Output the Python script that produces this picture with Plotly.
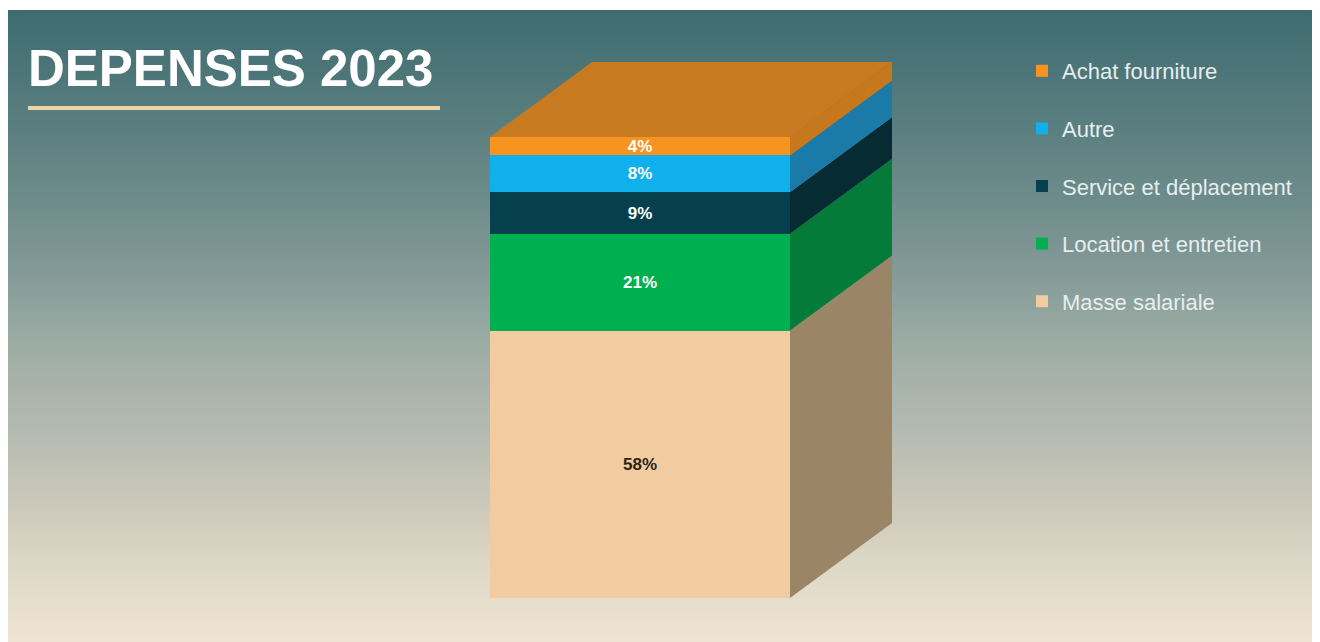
import plotly.graph_objects as go
import numpy as np

# ---- data ----
categories = ["Masse salariale", "Location et entretien", "Service et déplacement", "Autre", "Achat fourniture"]
values = [58, 21, 9, 8, 4]
labels = ["58%", "21%", "9%", "8%", "4%"]
title_text = "DEPENSES 2023"

# ---- styles ----
front_colors = ["#f2cba0", "#00b050", "#06404f", "#10b0ec", "#f7941f"]
side_colors = ["#9b8567", "#047b39", "#072b33", "#1a7aa8", "#c7781d"]
top_color = "#c87a20"
label_colors = ["#2b2418", "#ffffff", "#ffffff", "#ffffff", "#ffffff"]

W, H = 1320, 642
OFF = 8  # page body margin offset


def px(xp):
    return (xp - OFF) / W


def py(yp):
    return 1 - (yp - OFF) / H


px_per_unit_y = 4.61
y0_px = 598 - OFF
bar_left_px, bar_right_px = 490 - OFF, 790 - OFF
px_per_unit_x = bar_right_px - bar_left_px
dx = 102 / px_per_unit_x
dy = 75 / px_per_unit_y

xr = [-0.5 - bar_left_px / px_per_unit_x, 0.5 + (W - bar_right_px) / px_per_unit_x]
yr = [-(H - y0_px) / px_per_unit_y, y0_px / px_per_unit_y]


def data_y(page_px):
    return (y0_px - (page_px - OFF)) / px_per_unit_y


fig = go.Figure()

# background gradient (smooth heatmap in lowest layer)
stops_px = [0, 10, 130, 250, 350, 430, 500, 570, 660]
stops_col = ["#3e6c70", "#3e6c70", "#5b7f80", "#7d9594", "#9eaea6",
             "#b5bab0", "#cac8ba", "#dfd9c8", "#f3e7d6"]
span = stops_px[-1] - stops_px[0]
cscale = [[(p - stops_px[0]) / span, c] for p, c in zip(stops_px, stops_col)]
fig.add_trace(go.Heatmap(
    x=[xr[0] - 1, xr[1] + 1], y=[data_y(p) for p in stops_px],
    z=[[p, p] for p in stops_px], zmin=stops_px[0], zmax=stops_px[-1],
    colorscale=cscale, zsmooth="best", showscale=False, hoverinfo="skip",
))

bases = np.concatenate([[0], np.cumsum(values)[:-1]])
n = len(values)
for i, (cat, v) in enumerate(zip(categories, values)):
    fig.add_trace(go.Bar(
        x=[0], y=[v], width=1, name=cat,
        marker=dict(color=front_colors[i], line=dict(width=0)),
        text=[labels[i]], textposition="inside", insidetextanchor="middle",
        textfont=dict(family="Liberation Sans", size=17, color=label_colors[i], weight="bold"),
        legendgroup=cat, legendrank=n - i, hoverinfo="skip",
    ))

for i, v in enumerate(values):
    b = bases[i]
    fig.add_trace(go.Scatter(
        x=[0.5, 0.5 + dx, 0.5 + dx, 0.5, 0.5],
        y=[b, b + dy, b + v + dy, b + v, b],
        fill="toself", fillcolor=side_colors[i], mode="lines",
        line=dict(width=0, color=side_colors[i]), showlegend=False, hoverinfo="skip",
    ))

total = float(sum(values))
fig.add_trace(go.Scatter(
    x=[-0.5, -0.5 + dx, 0.5 + dx, 0.5, -0.5],
    y=[total, total + dy, total + dy, total, total],
    fill="toself", fillcolor=top_color, mode="lines",
    line=dict(width=0, color=top_color), showlegend=False, hoverinfo="skip",
))

shapes = [
    dict(type="rect", xref="paper", yref="paper", x0=0, x1=1, y0=py(10), y1=1.01,
         fillcolor="white", line=dict(width=0), layer="above"),
    dict(type="line", xref="paper", yref="paper",
         x0=px(28), x1=px(440), y0=py(108), y1=py(108),
         line=dict(color="#ecd5a6", width=4), layer="above"),
]

fig.update_layout(
    width=W, height=H,
    margin=dict(l=0, r=0, t=0, b=0),
    paper_bgcolor="white", plot_bgcolor="rgba(0,0,0,0)",
    barmode="stack", bargap=0,
    uniformtext=dict(mode="show", minsize=17),
    xaxis=dict(range=xr, visible=False, fixedrange=True),
    yaxis=dict(range=yr, visible=False, fixedrange=True),
    shapes=shapes,
    showlegend=True,
    legend=dict(
        x=px(1022), y=py(50), xanchor="left", yanchor="top",
        traceorder="grouped", tracegroupgap=26,
        font=dict(family="Liberation Sans", size=22, color="#e6eeee"),
        bgcolor="rgba(0,0,0,0)",
    ),
    annotations=[dict(
        text="<b>" + title_text + "</b>", xref="paper", yref="paper",
        x=px(26), y=py(68), xanchor="left", yanchor="middle", showarrow=False,
        font=dict(family="Liberation Sans", size=51, color="#ffffff"),
    )],
)

fig.write_html("out.html", config=dict(displayModeBar=False))
